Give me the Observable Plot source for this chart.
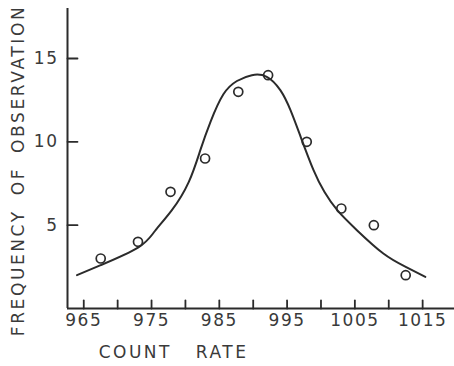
<!DOCTYPE html>
<html>
<head>
<meta charset="utf-8">
<script src="https://cdn.jsdelivr.net/npm/d3@7"></script>
<script src="https://cdn.jsdelivr.net/npm/@observablehq/plot@0.6"></script>
<style>
  html, body { margin: 0; padding: 0; background: #fff; }
</style>
</head>
<body>
<div id="chart"></div>
<script>
// Observed counts (open circles)
const countRate = [967.5, 973, 977.8, 982.9, 987.8, 992.2, 997.9, 1003, 1007.8, 1012.5];
const frequency = [3, 4, 7, 9, 13, 14, 10, 6, 5, 2];

// Smooth fitted curve
const fitRate = [964, 967.5, 973, 975.5, 978, 980.5, 982.2, 983.7, 985.6, 987.6, 989.8, 992, 994, 995.5, 997, 998.9, 1000.5, 1002.4, 1005.3, 1009.2, 1012.5, 1015.4];
const fitFreq = [2.0, 2.6, 3.65, 4.65, 5.9, 7.6, 9.5, 11.2, 12.85, 13.65, 14.0, 13.9, 13.1, 11.9, 10.3, 8.3, 7.0, 5.9, 4.7, 3.3, 2.5, 1.9];

// Axes
const xTicks = [965, 970, 975, 980, 985, 990, 995, 1000, 1005, 1010, 1015];
const xTickLabels = [965, 975, 985, 995, 1005, 1015];
const yTicks = [5, 10, 15];
const xLabel = "COUNT RATE";
const yLabel = "FREQUENCY OF OBSERVATION";

const xDomain = [962.6, 1019.7];
const yDomain = [0, 18];

const observed = countRate.map((x, i) => ({x, y: frequency[i]}));
const fit = fitRate.map((x, i) => ({x, y: fitFreq[i]}));

const ink = "#2b2b2b";
const textInk = "#3a3a3a";
const font = "DejaVu Sans";

// straight tick shape for vector marks (inward-pointing ticks)
const tickShape = {draw(context, l) { context.moveTo(0, 0); context.lineTo(0, -l); }};

const chart = Plot.plot({
  width: 454,
  height: 366,
  marginLeft: 67,
  marginRight: 0,
  marginTop: 8,
  marginBottom: 58,
  style: {fontFamily: font, background: "#fff", color: textInk, letterSpacing: "1.5px", overflow: "visible"},
  x: {domain: xDomain},
  y: {domain: yDomain},
  marks: [
    Plot.ruleX([xDomain[0]], {stroke: ink, strokeWidth: 2}),
    Plot.ruleY([yDomain[0]], {stroke: ink, strokeWidth: 2}),
    Plot.vector(xTicks, {x: d => d, y: () => yDomain[0], length: 8, rotate: 0, anchor: "start", shape: tickShape, stroke: ink, strokeWidth: 1.8}),
    Plot.vector(yTicks, {x: () => xDomain[0], y: d => d, length: 10, rotate: 90, anchor: "start", shape: tickShape, stroke: ink, strokeWidth: 1.8}),
    Plot.axisX(xTickLabels, {tickSize: 0, tickPadding: 5, fontSize: 17, label: null, fill: textInk, tickFormat: d => String(d)}),
    Plot.axisY(yTicks, {tickSize: 0, tickPadding: 9, fontSize: 17, label: null, fill: textInk, tickFormat: d => String(d)}),
    Plot.line(fit, {x: "x", y: "y", curve: "natural", stroke: ink, strokeWidth: 2}),
    Plot.dot(observed, {x: "x", y: "y", r: 4.5, stroke: ink, strokeWidth: 1.7, fill: "none"}),
    Plot.text([xLabel], {text: d => d, frameAnchor: "bottom-left", dx: 106, dy: 44, textAnchor: "middle", lineAnchor: "middle", fontSize: 17, fill: textInk}),
    Plot.text([yLabel], {text: d => d, frameAnchor: "left", dx: -49, dy: 12, rotate: -90, textAnchor: "middle", lineAnchor: "middle", fontSize: 17, fill: textInk})
  ]
});

d3.select(chart).selectAll("text")
  .filter(function() { return this.textContent === xLabel; })
  .attr("letter-spacing", "2.5px")
  .attr("word-spacing", "16px");
d3.select(chart).selectAll("text")
  .filter(function() { return this.textContent === yLabel; })
  .attr("letter-spacing", "2.6px")
  .attr("word-spacing", "6px");

document.getElementById("chart").appendChild(chart);
</script>
</body>
</html>
